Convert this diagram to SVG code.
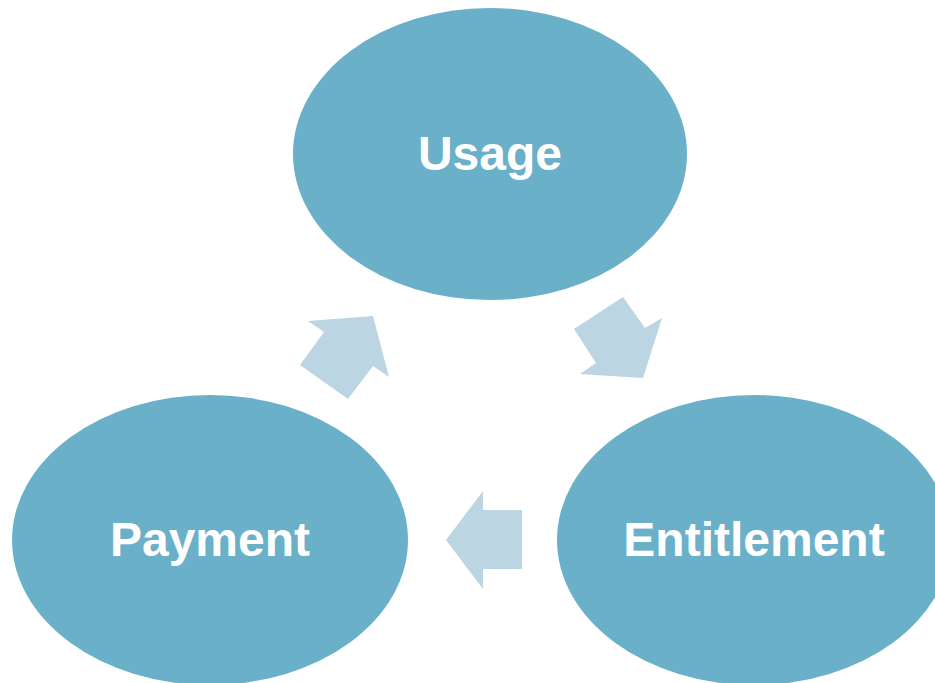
<svg xmlns="http://www.w3.org/2000/svg" width="935" height="683" viewBox="0 0 935 683">
<style>
.node{fill:#6AB0C9}
.arr{fill:#BCD5E2}
.lbl{font-family:"Liberation Sans",Arial,sans-serif;font-weight:bold;font-size:48px;fill:#FFFFFF;text-anchor:middle}
</style>
<rect width="935" height="683" fill="#FFFFFF"/>
<g id="connectors">
<polygon class="arr" points="308,321 373,316 389,377 373,366 348,399 300,365 324,332"/>
<polygon class="arr" points="623,297 645,328 662,318 643,378 580,374 596,363 574,329"/>
<polygon class="arr" points="483,491 483,510 522,510 522,569 483,569 483,589 446,540"/>
</g>
<g id="usage">
<ellipse class="node" cx="490" cy="154" rx="197" ry="146"/>
<text class="lbl" x="490" y="170">Usage</text>
</g>
<g id="payment">
<ellipse class="node" cx="210" cy="540" rx="198" ry="145"/>
<text class="lbl" x="210" y="556">Payment</text>
</g>
<g id="entitlement">
<ellipse class="node" cx="754" cy="540" rx="197" ry="145"/>
<text class="lbl" x="754" y="556">Entitlement</text>
</g>
</svg>
